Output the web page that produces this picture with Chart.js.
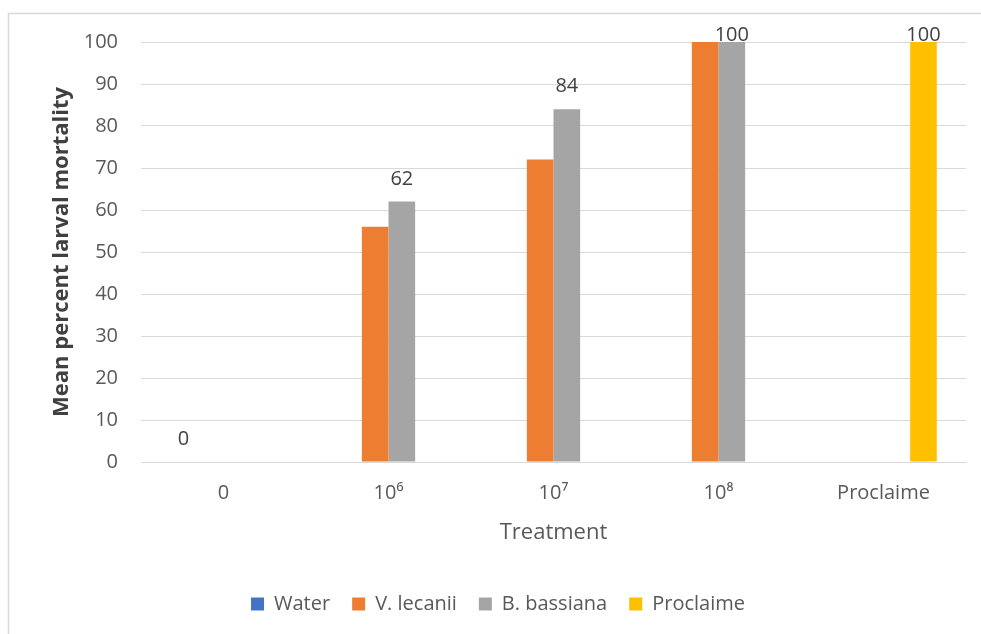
<!DOCTYPE html>
<html><head><meta charset="utf-8">
<script src="https://cdn.jsdelivr.net/npm/chart.js@4"></script>
<style>html,body{margin:0;padding:0;background:#fff;overflow:hidden}</style>
</head><body>
<canvas id="c" width="981" height="634"></canvas>
<script>
const categories = ['0', '10⁶', '10⁷', '10⁸', 'Proclaime'];
const seriesNames = ['Water', 'V. lecanii', 'B. bassiana', 'Proclaime'];
const water = [0, null, null, null, null];
const vLecanii = [null, 56, 72, 100, null];
const bBassiana = [null, 62, 84, 100, null];
const proclaime = [null, null, null, null, 100];
const yTickValues = [0, 10, 20, 30, 40, 50, 60, 70, 80, 90, 100];
const labelledSeries = [true, false, true, true];
const seriesColors = ['#4472C4', '#ED7D31', '#A5A5A5', '#FFC000'];
const yTitle = 'Mean percent larval mortality';
const xTitle = 'Treatment';

const FONT = "'Open Sans', Lato, sans-serif";
const seriesData = [water, vLecanii, bBassiana, proclaime];

const frame = {
  id: 'frame',
  beforeDraw(chart) {
    const ctx = chart.ctx;
    ctx.save();
    ctx.fillStyle = '#fff';
    ctx.fillRect(0, 0, chart.width, chart.height);
    ctx.strokeStyle = '#d9d9d9';
    ctx.lineWidth = 1.5;
    ctx.strokeRect(8.5, 13.5, 1100, 800);
    ctx.restore();
  }
};

const valueLabels = {
  id: 'valueLabels',
  afterDatasetsDraw(chart) {
    const ctx = chart.ctx;
    ctx.save();
    ctx.font = '20px ' + FONT;
    ctx.fillStyle = '#404040';
    ctx.textAlign = 'center';
    ctx.textBaseline = 'alphabetic';
    chart.data.datasets.forEach((ds, i) => {
      if (!labelledSeries[i]) return;
      const meta = chart.getDatasetMeta(i);
      meta.data.forEach((bar, j) => {
        const v = ds.data[j];
        if (v === null || v === undefined) return;
        const y = Math.max(bar.y - 17, chart.chartArea.top - 1);
        ctx.fillText(String(v), bar.x, y);
      });
    });
    ctx.restore();
  }
};

new Chart(document.getElementById('c'), {
  type: 'bar',
  data: {
    labels: categories,
    datasets: seriesNames.map((name, i) => ({
      label: name,
      data: seriesData[i],
      backgroundColor: seriesColors[i],
      borderWidth: 0,
      categoryPercentage: 0.646,
      barPercentage: 1.0
    }))
  },
  options: {
    responsive: false,
    animation: false,
    devicePixelRatio: 1,
    layout: { padding: { left: 30, right: 15, top: 42, bottom: 10 } },
    plugins: {
      legend: {
        position: 'bottom',
        labels: {
          font: { family: FONT, size: 20 },
          color: '#595959',
          boxWidth: 13,
          boxHeight: 13,
          padding: 22
        }
      },
      tooltip: { enabled: false }
    },
    scales: {
      x: {
        grid: { display: false, drawTicks: false },
        border: { display: true, color: '#d9d9d9', width: 1 },
        ticks: {
          font: { family: FONT, size: 20 },
          color: '#595959',
          padding: 19,
          maxRotation: 0,
          autoSkip: false
        },
        title: {
          display: true,
          text: xTitle,
          font: { family: FONT, size: 22 },
          color: '#595959',
          padding: { top: 0, bottom: 26 }
        },
        afterFit(scale) { scale.height = 110; }
      },
      y: {
        min: 0,
        max: 100,
        afterBuildTicks(scale) { scale.ticks = yTickValues.map(v => ({ value: v })); },
        grid: { color: '#d9d9d9', lineWidth: 1, drawTicks: false },
        border: { display: false },
        ticks: {
          font: { family: FONT, size: 20 },
          color: '#595959',
          padding: 23
        },
        title: {
          display: true,
          text: yTitle,
          font: { family: FONT, size: 22, weight: 'bold' },
          color: '#404040',
          padding: { top: 19, bottom: 0 }
        },
        afterFit(scale) { scale.width = 111; }
      }
    }
  },
  plugins: [frame, valueLabels]
});
</script>
</body></html>
